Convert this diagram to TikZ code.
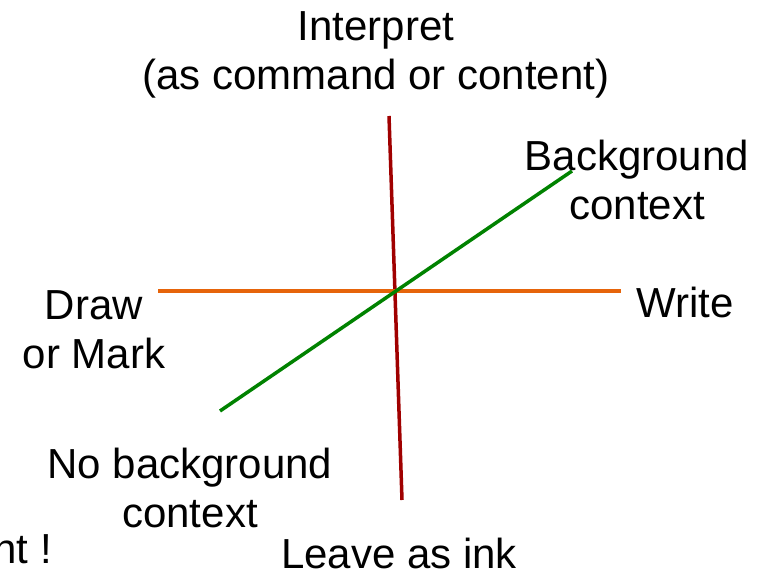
\documentclass[tikz,border=0pt]{standalone}
\usepackage{fontspec}
\setmainfont{Liberation Sans}
\usepackage{xcolor}
\definecolor{axisred}{RGB}{160,0,0}
\definecolor{axisorange}{RGB}{230,100,10}
\definecolor{axisgreen}{RGB}{0,130,0}
\tikzset{
    axisline/.style={line width=3.5pt},
    lbl/.style={align=center,inner sep=0pt,font=\fontsize{42}{49}\selectfont}
}

\begin{document}
\begin{tikzpicture}[x=1pt,y=-1pt]
\useasboundingbox (0,0) rectangle (769,577);
\clip (0,0) rectangle (769,577);
\foreach \x/\y/\p in {389/116/top, 402/500/bot, 158/291/lft, 621/291/rgt, 220/411/nobg, 572/171/bg}{
    \coordinate (\p) at (\x,\y);
}
\draw[axisline, axisred] (top)--(bot);
\draw[axisline, axisorange] (lft)--(rgt);
\draw[axisline, axisgreen] (nobg)--(bg);
\node[lbl] (interp) at (376,55) {Interpret\\(as command or content)};
\node[lbl] (bgctx) at (637,180) {Background\\context};
\node[lbl, anchor=base] (write) at (685,318) {Write};
\node[lbl] (draw) at (94,330) {Draw\\or Mark};
\node[lbl] (nobgctx) at (190,488) {No background\\context};
\node[lbl, anchor=base] (leave) at (399,568) {Leave as ink};
\node[lbl, anchor=base east] (excl) at (52,563) {nt !};
\end{tikzpicture}
\end{document}
